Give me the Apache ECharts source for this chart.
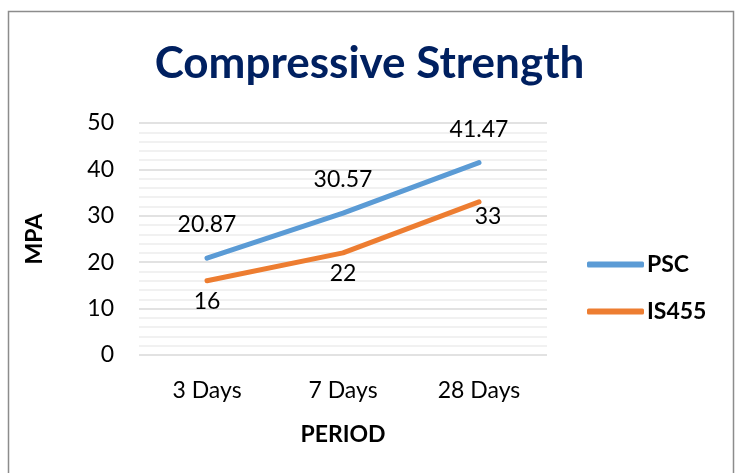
<!DOCTYPE html>
<html><head><meta charset="utf-8">
<script src="https://cdn.jsdelivr.net/npm/echarts@6/dist/echarts.min.js"></script>
<style>html,body{margin:0;padding:0;background:#fff}#c{width:739px;height:473px}</style>
</head><body><div id="c"></div>
<script>
const categories = ['3 Days', '7 Days', '28 Days'];
const pscValues = [20.87, 30.57, 41.47];
const is455Values = [16, 22, 33];
const titleText = 'Compressive Strength';
const xAxisName = 'PERIOD';
const yAxisName = 'MPA';

const font = 'Lato, "Open Sans", sans-serif';
const fs = 23;
const is455Data = is455Values.map((v, i) => i === is455Values.length - 1 ? {value: v, label: {offset: [9, -6]}} : v);
const chart = echarts.init(document.getElementById('c'));
chart.setOption({
  animation: false,
  backgroundColor: '#fff',
  graphic: [{type: 'rect', shape: {x: 8.5, y: 11.5, width: 725, height: 470}, style: {fill: 'none', stroke: '#8c8c8c', lineWidth: 1.5}, silent: true}],
  title: {text: titleText, left: 'center', top: 37, textStyle: {fontFamily: font, fontWeight: 'bold', fontSize: 44, color: '#002060'}},
  legend: {orient: 'vertical', left: 582, top: 248, itemGap: 24, itemWidth: 57, itemHeight: 6, icon: 'roundRect',
    textStyle: {fontFamily: font, fontWeight: 'bold', fontSize: fs, color: '#000', padding: [0, 0, 0, -2]}, data: ['PSC', 'IS455']},
  grid: {left: 139, right: 192, top: 123, bottom: 118},
  xAxis: {type: 'category', data: categories, boundaryGap: true,
    axisLine: {show: false}, axisTick: {show: false},
    axisLabel: {fontFamily: font, fontSize: fs, color: '#000', margin: 24},
    name: xAxisName, nameLocation: 'middle', nameGap: 68,
    nameTextStyle: {fontFamily: font, fontWeight: 'bold', fontSize: fs, color: '#000'}},
  yAxis: {type: 'value', min: 0, max: 50, interval: 10,
    axisLine: {show: false}, axisTick: {show: false},
    axisLabel: {fontFamily: font, fontSize: fs, color: '#000', margin: 25},
    splitLine: {lineStyle: {color: '#d9d9d9', width: 1.5}},
    minorTick: {show: false, splitNumber: 5},
    minorSplitLine: {show: true, lineStyle: {color: '#ededed', width: 1.5}},
    name: yAxisName, nameLocation: 'middle', nameGap: 93, nameRotate: 90,
    nameTextStyle: {fontFamily: font, fontWeight: 'bold', fontSize: fs, color: '#000'}},
  series: [
    {name: 'PSC', type: 'line', data: pscValues, symbol: 'circle', symbolSize: 4, showSymbol: true,
      lineStyle: {color: '#5b9bd5', width: 5, cap: 'round'}, itemStyle: {color: '#5b9bd5'},
      label: {show: true, position: 'top', distance: 20, fontFamily: font, fontSize: fs, color: '#000'}},
    {name: 'IS455', type: 'line', data: is455Data, symbol: 'circle', symbolSize: 4, showSymbol: true,
      lineStyle: {color: '#ed7d31', width: 5, cap: 'round'}, itemStyle: {color: '#ed7d31'},
      label: {show: true, position: 'bottom', distance: 7, fontFamily: font, fontSize: fs, color: '#000'}}
  ]
});
</script></body></html>
